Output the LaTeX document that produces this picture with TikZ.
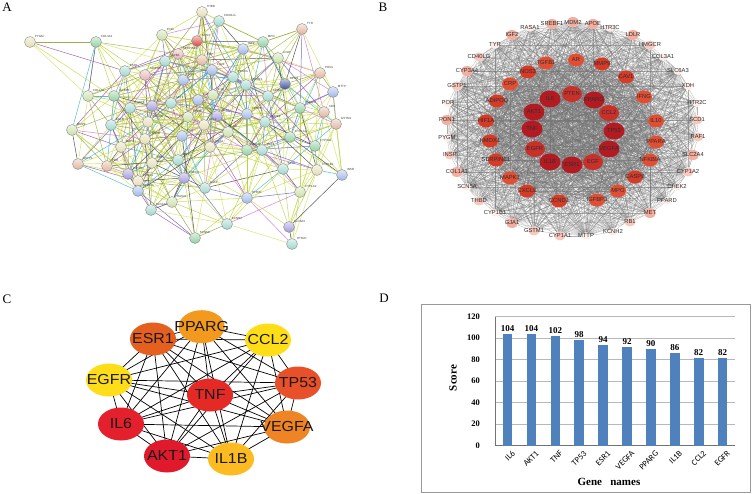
\documentclass[tikz,border=0pt]{standalone}
\usepackage{fontspec}
\setmainfont{Liberation Serif}
\newfontfamily\arialf{Liberation Sans}
\newfontfamily\calibf{Carlito}
\usetikzlibrary{shapes.geometric}
\pgfdeclarelayer{bgfill}
\pgfdeclarelayer{bg}
\pgfsetlayers{bgfill,bg,main}
% panel A node colours
\definecolor{cB}{HTML}{E3DDB0}
\definecolor{cG}{HTML}{8FD0A0}
\definecolor{cT}{HTML}{9ED6CC}
\definecolor{cL}{HTML}{C9DFA6}
\definecolor{cR}{HTML}{D9453F}
\definecolor{cP}{HTML}{E6B0B8}
\definecolor{cS}{HTML}{E2B49C}
\definecolor{cU}{HTML}{9CB6E8}
\definecolor{cV}{HTML}{A098DC}
\definecolor{cD}{HTML}{3C4E9C}
% panel A edge colours
\definecolor{ec0}{HTML}{C8DA3C}
\definecolor{ec1}{HTML}{BCD23A}
\definecolor{ec2}{HTML}{D2E050}
\definecolor{ec3}{HTML}{B4CC34}
\definecolor{ec4}{HTML}{C8DA3C}
\definecolor{ec5}{HTML}{9CB030}
\definecolor{ec6}{HTML}{D6E25A}
\definecolor{ec7}{HTML}{9C4A9C}
\definecolor{ec8}{HTML}{3A3A3A}
\definecolor{ec9}{HTML}{D470C8}
\definecolor{ec10}{HTML}{3CB4C8}
\definecolor{ec11}{HTML}{8E9E2C}
\definecolor{ec12}{HTML}{5A5AC8}
% panel B
\definecolor{bIn}{HTML}{B31B22}
\definecolor{bInB}{HTML}{C9302A}
\definecolor{bMid}{HTML}{E24E33}
\definecolor{bMidB}{HTML}{D63B27}
\definecolor{bOut}{HTML}{F2AE9E}
\definecolor{bOutB}{HTML}{F7C8BC}
\definecolor{bFaint}{HTML}{FDEDE9}
% panel C
\definecolor{cPP}{HTML}{F39A1E}
\definecolor{cCC}{HTML}{FFDE17}
\definecolor{cES}{HTML}{E5601F}
\definecolor{cEG}{HTML}{FFDD19}
\definecolor{cTN}{HTML}{E52A26}
\definecolor{cTP}{HTML}{E8502A}
\definecolor{cIL}{HTML}{E3202C}
\definecolor{cVE}{HTML}{EF8424}
\definecolor{cAK}{HTML}{E0192C}
\definecolor{cIB}{HTML}{FBBB21}
% panel D
\definecolor{barblue}{HTML}{4F81BD}
\tikzset{
  panellet/.style={font=\fontsize{13}{13}\selectfont, inner sep=0pt},
  anode/.style={circle, minimum size=11pt, inner sep=0pt, draw=black!50, line width=0.35pt},
  alab/.style={font=\arialf\fontsize{3}{3.5}\selectfont, text=black!75, inner sep=0.2pt, anchor=south west},
  aedge/.style={line width=0.5pt, opacity=0.85},
  bnode/.style={ellipse, inner sep=0pt, draw=none},
  bi/.style={bnode, minimum width=21pt, minimum height=17pt, fill=bIn},
  biB/.style={bnode, minimum width=20pt, minimum height=16pt, fill=bInB},
  bm/.style={bnode, minimum width=16pt, minimum height=13pt, fill=bMid},
  bmB/.style={bnode, minimum width=16pt, minimum height=13pt, fill=bMidB},
  bo/.style={bnode, minimum width=12pt, minimum height=10pt, fill=bOut},
  boB/.style={bnode, minimum width=11pt, minimum height=9pt, fill=bOutB},
  bf/.style={bnode, minimum width=9pt, minimum height=7pt, fill=bFaint},
  blab/.style={font=\arialf\fontsize{5.8}{6}\selectfont, text=black!82, inner sep=0pt},
  bedge/.style={draw=black!55, line width=0.28pt, opacity=0.55},
  cnode/.style={ellipse, minimum width=46pt, minimum height=33pt, inner sep=0pt, draw=none},
  clab/.style={font=\arialf\fontsize{14.5}{15}\selectfont, xscale=1.1, inner sep=0pt, text=black!90},
  cedge/.style={draw=black, line width=0.7pt},
  dframe/.style={draw=black!40, line width=1pt},
  dgrid/.style={draw=black!28, line width=0.6pt},
  daxis/.style={draw=black!55, line width=0.6pt},
  dbar/.style={fill=barblue},
  dtick/.style={font=\fontsize{8.5}{9}\selectfont\bfseries, inner sep=0pt, anchor=east},
  dval/.style={font=\fontsize{9}{9}\selectfont\bfseries, inner sep=0pt, anchor=south},
  dxlab/.style={font=\calibf\fontsize{8.5}{8.5}\selectfont, inner sep=0pt, anchor=north east, rotate=45},
  dtitle/.style={font=\fontsize{11}{11}\selectfont\bfseries, inner sep=0pt}
}
\begin{document}
\begin{tikzpicture}[x=1pt,y=-1pt]
\begin{pgfonlayer}{bgfill}
\fill[white] (0,0) rectangle (752,494);
\end{pgfonlayer}
\useasboundingbox (0,0) rectangle (752,494);
% ---------------- panel letters
\node[panellet] (labA) at (7,7) {A};
\node[panellet] (labB) at (383,7) {B};
\node[panellet] (labC) at (7,299) {C};
\node[panellet] (labD) at (384,298) {D};
% ---------------- panel A (STRING network)
\foreach \n/\x/\y/\col/\lab in {
1/30/42/cB/PYGM, 2/96/42/cG/COL3A1, 3/202/12/cB/THBD, 4/219/21/cT/CD40LG,
5/162/35/cL/IFNG, 6/197/41/cR/NOS3, 7/178/54/cP/SERPINE1, 8/202/60/cS/CRP,
9/243/49/cU/IGF2, 10/263/42/cG/MPO, 11/278/58/cL/LDLR, 12/285/84/cD/APOB,
13/302/29/cS/TYR, 14/320/73/cS/PON1, 15/333/92/cU/MTTP, 16/324/112/cS/XDH,
17/300/108/cG/HMGCR, 18/336/124/cS/GSTM1, 19/290/137/cG/CYP1A1, 20/315/146/cG/CYP3A4,
21/283/169/cT/SCD1, 22/317/170/cB/CYP1B1, 23/342/175/cU/INSR, 24/300/192/cL/CYP1A2,
25/289/227/cV/SLC6A3, 26/292/244/cT/HTR2C, 27/125/71/cT/ESR1, 28/145/75/cP/ADIPOQ,
29/165/61/cT/TGFB1, 30/183/80/cU/IL10, 31/212/70/cU/CAV1, 32/233/77/cT/PPARA,
33/246/85/cT/SREBF1, 34/268/96/cT/APOE, 35/88/96/cL/COL1A1, 36/114/96/cG/IGFBP3,
37/130/108/cT/CXCL8, 38/152/106/cV/IL6, 39/171/103/cT/AKT1, 40/198/100/cU/TNF,
41/213/95/cL/IL1B, 42/217/116/cV/TP53, 43/247/114/cU/PPARD, 44/72/130/cL/MMP9,
45/111/125/cT/EGFR, 46/121/147/cB/MAPK1, 47/148/122/cB/VEGFA, 48/188/117/cL/PTEN,
49/204/125/cB/CCL2, 50/182/136/cU/EGF, 51/145/139/cB/PPARG, 52/210/147/cB/HIF1A,
53/247/150/cG/MDM2, 54/262/150/cT/RAF1, 55/78/164/cS/GSTP1, 56/107/166/cS/POR,
57/128/174/cV/CASP8, 58/138/181/cB/CCND1, 59/138/191/cU/NFKBIA, 60/152/163/cB/RB1,
61/178/160/cT/MET, 62/184/178/cV/CHEK2, 63/205/188/cT/GJA1, 64/172/202/cL/RASA1,
65/151/210/cT/SLC2A4, 66/195/238/cG/SCN5A, 67/227/224/cT/KCNH2, 68/247/198/cU/HTR3C,
69/228/132/cL/AR, 70/265/122/cT/HMOX1}{
  \node[anode, top color=\col!30!white, bottom color=\col] (a\n) at (\x,\y) {};
  \node[alab] (al\n) at ([shift={(0.5pt,0.5pt)}]a\n.north east) {\lab};
  \expandafter\xdef\csname ax\n\endcsname{\x}
  \expandafter\xdef\csname ay\n\endcsname{\y}
}
\begin{pgfonlayer}{bg}
\foreach \i in {1,...,70}{
  \foreach \j in {\i,...,70}{
    \ifnum\j>\i
      \pgfmathsetmacro\dd{veclen(\csname ax\i\endcsname-\csname ax\j\endcsname,\csname ay\i\endcsname-\csname ay\j\endcsname)}
      \pgfmathtruncatemacro\hh{mod(\i*37+\j*17,7)}
      \ifdim\dd pt<86pt
        \ifnum\hh<5
          \pgfmathtruncatemacro\cc{mod(\i*5+\j*3,13)}
          \draw[aedge, draw=ec\cc] (a\i) -- (a\j);
        \fi
      \fi
    \fi
  }
}
\draw[aedge, draw=ec0] (a1) -- (a37);
\draw[aedge, draw=ec7] (a1) -- (a27);
\draw[aedge, draw=ec12] (a2) -- (a35);
\draw[aedge, draw=ec10] (a2) -- (a44);
\draw[aedge, draw=ec0] (a3) -- (a40);
\draw[aedge, draw=ec5] (a3) -- (a48);
\draw[aedge, draw=ec0] (a13) -- (a11);
\draw[aedge, draw=ec8] (a66) -- (a50);
\draw[aedge, draw=ec7] (a66) -- (a65);
\draw[aedge, draw=ec0] (a67) -- (a21);
\draw[aedge, draw=ec0] (a23) -- (a43);
\end{pgfonlayer}
% ---------------- panel B (degree network)
\foreach \n/\x/\y/\sty/\lab in {
1/550/99/bi/IL6, 2/572/94/biB/PTEN, 3/594/100/bi/PPARG, 4/609/113/biB/CCL2,
5/614/131/bi/TP53, 6/609/149/bi/VEGFA, 7/593/162/biB/EGF, 8/572/165/bi/ESR1,
9/550/162/bi/IL1B, 10/535/149/biB/EGFR, 11/532/129/bi/TNF, 12/534/112/bi/AKT1,
13/528/72/bmB/NOS3, 14/546/63/bm/TGFB1, 15/576/60/bm/AR, 16/602/64/bmB/MMP9,
17/626/77/bmB/CAV1, 18/644/97/bm/IFNG, 19/656/121/bm/IL10, 20/656/142/bm/PPARA,
21/650/160/bm/NFKBIA, 22/635/177/bmB/CASP8, 23/618/191/bm/MPO, 24/597/200/bm/IGFBP3,
25/559/201/bmB/CCND1, 26/527/191/bmB/CXCL8, 27/510/178/bm/MAPK1, 28/496/160/bmB/SERPINE1,
29/490/141/bmB/HMOX1, 30/486/121/bmB/HIF1A, 31/497/101/bmB/ADIPOQ, 32/510/84/bm/CRP,
33/512/35/bo/IGF2, 34/530/28/bf/RASA1, 35/552/24/bo/SREBF1, 36/573/22/bo/MDM2,
37/593/24/bo/APOE, 38/610/28/bf/HTR3C, 39/633/35/bo/LDLR, 40/650/45/boB/HMGCR,
41/663/57/bf/COL3A1, 42/678/71/bf/SLC6A3, 43/688/86/bf/XDH, 44/697/103/bf/HTR2C,
45/697/120/boB/SCD1, 46/698/137/boB/RAF1, 47/693/155/bo/SLC2A4, 48/688/172/boB/CYP1A2,
49/677/187/bf/CHEK2, 50/667/201/bf/PPARD, 51/650/213/bo/MET, 52/630/222/boB/RB1,
53/613/232/bf/KCNH2, 54/586/236/bf/MTTP, 55/560/236/boB/CYP1A1, 56/534/231/boB/GSTM1,
57/512/223/bo/GJA1, 58/495/213/bf/CYP1B1, 59/479/201/boB/THBD, 60/467/187/bf/SCN5A,
61/457/172/bo/COL1A1, 62/450/155/boB/INSR, 63/447/138/bf/PYGM, 64/447/120/bo/PON1,
65/448/103/bf/POR, 66/457/86/boB/GSTP1, 67/467/71/bo/CYP3A4, 68/479/57/boB/CD40LG,
69/495/45/bf/TYR}{
  \node[\sty] (b\n) at (\x,\y) {};
  \node[blab] (bl\n) at (b\n) {\lab};
}
\begin{pgfonlayer}{bg}
\foreach \i in {1,...,69}{
  \foreach \j in {\i,...,69}{
    \ifnum\j>\i
      \ifnum\j<33
        \draw[bedge] (b\i) -- (b\j);
      \else
        \ifnum\i<33
          \pgfmathtruncatemacro\hh{mod(\i*7+\j*11,3)}
          \ifnum\hh<2 \draw[bedge] (b\i) -- (b\j); \fi
        \else
          \pgfmathtruncatemacro\hh{mod(\i*\j,6)}
          \ifnum\hh=0 \draw[bedge] (b\i) -- (b\j); \fi
        \fi
      \fi
    \fi
  }
}
\end{pgfonlayer}
% ---------------- panel C (hub genes)
\foreach \n/\x/\y/\col/\lab in {
1/201.7/326.7/cPP/PPARG, 2/268/340/cCC/CCL2, 3/153/339/cES/ESR1,
4/109/380/cEG/EGFR, 5/210/395/cTN/TNF, 6/298/383/cTP/TP53,
7/121/424/cIL/IL6, 8/287/427/cVE/VEGFA, 9/167/456/cAK/AKT1, 10/231/459/cIB/IL1B}{
  \node[cnode, fill=\col] (c\n) at (\x,\y) {};
  \node[clab] (cl\n) at (c\n) {\lab};
}
\begin{pgfonlayer}{bg}
\foreach \i in {1,...,10}{
  \foreach \j in {\i,...,10}{
    \ifnum\j>\i \draw[cedge] (c\i.center) -- (c\j.center); \fi
  }
}
\end{pgfonlayer}
% ---------------- panel D (bar chart)
\draw[dframe] (421,304) rectangle (750,492);
\foreach \v in {20,40,...,120}{
  \draw[dgrid] (495,{445.7-1.075*\v}) -- (735,{445.7-1.075*\v});
}
\draw[daxis] (495,316.7) -- (495,445.7) -- (735,445.7);
\foreach \v in {0,20,...,120}{
  \node[dtick] (yt\v) at (480,{445.7-1.075*\v}) {\v};
}
\foreach \i/\g/\v in {0/IL6/104, 1/AKT1/104, 2/TNF/102, 3/TP53/98, 4/ESR1/94,
  5/VEGFA/92, 6/PPARG/90, 7/IL1B/86, 8/CCL2/82, 9/EGFR/82}{
  \pgfmathsetmacro\bx{507.5+23.9*\i}
  \fill[dbar] ({\bx-4.8},445.7) rectangle ({\bx+4.8},{445.7-1.075*\v});
  \node[dval] (dv\i) at (\bx,{443.5-1.075*\v}) {\v};
  \node[dxlab] (dx\i) at ({\bx+4},450) {\g};
}
\node[dtitle, rotate=90] (dscore) at (453,378) {Score};
\node[dtitle] (dgene) at (609,482) {Gene\ \ \ names};
\end{tikzpicture}
\end{document}
